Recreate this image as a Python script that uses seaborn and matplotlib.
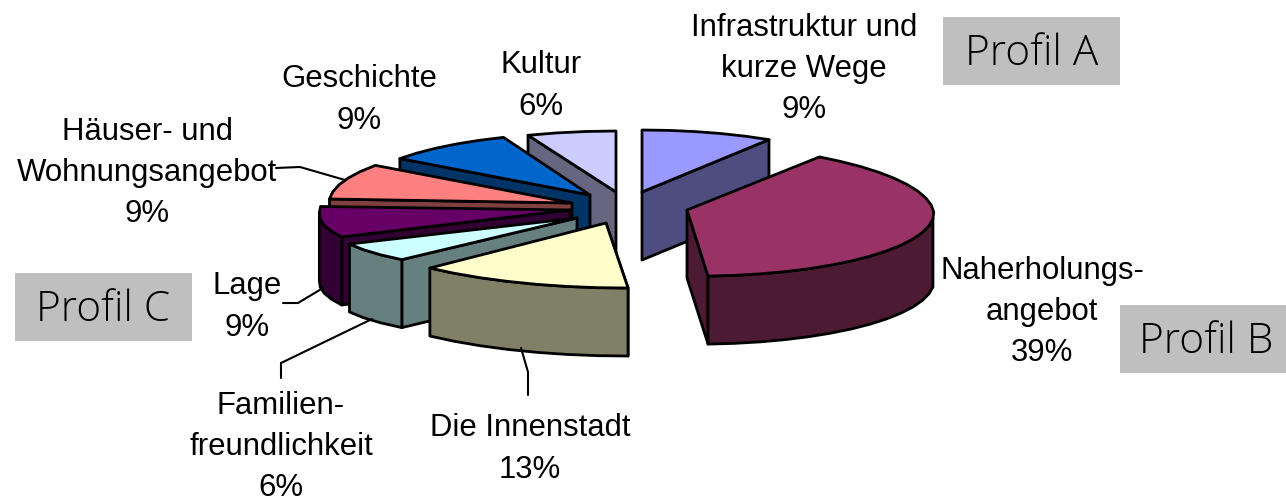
import numpy as np
import matplotlib
matplotlib.use("Agg")
import matplotlib.pyplot as plt
import seaborn as sns

# ---- data (clockwise from 12 o'clock) ----
categories = ["Infrastruktur und\nkurze Wege", "Naherholungs-\nangebot", "Die Innenstadt",
              "Familien-\nfreundlichkeit", "Lage", "Häuser- und\nWohnungsangebot",
              "Geschichte", "Kultur"]
shares = [9, 39, 13, 6, 9, 9, 9, 6]
top_colors = ["#9999FF", "#993366", "#FFFFCC", "#CCFFFF", "#660066", "#FF8080", "#0066CC", "#CCCCFF"]
profiles = ["Profil A", "Profil B", "Profil C"]

# ---- layout of the exploded pseudo-3D pie (style, not data) ----
apex_x = [642, 687, 606, 577, 570, 572, 590, 616]
apex_y = [192, 210, 223, 218, 210, 203, 195, 192]
rad_x = [237, 247, 263, 247, 250, 243, 235, 239]
rad_y = [62, 66, 64.6, 54, 56, 64, 62, 61]
shear = [0, -10, -11, -23, -19, 0, 0, 0]
tilt = [0, 5, 7.4, 0, 0, 0, 0, 0]
depth = 68
draw_order = [7, 6, 5, 4, 3, 2, 0, 1]
label_x = [804, 1042, 530, 281, 247, 147, 359, 541]
label_y = [69, 312, 449, 447, 307, 173, 100, 86]
leaders = {
    5: ([276, 300, 345], [168, 167, 180]),
    4: ([283, 298, 323], [303, 303, 288]),
    3: ([281, 281, 372], [378, 363, 319]),
    2: ([528, 528, 521], [395, 372, 348]),
}
boxes = [(943, 17, 177, 68), (1120, 305, 166, 68), (15, 273, 177, 68)]
box_text_dx = [0, 3, 0]

sns.set_theme(style="white")
plt.rcParams["font.family"] = ["Liberation Sans", "DejaVu Sans"]
palette = sns.color_palette(top_colors)

fig = plt.figure(figsize=(12.86, 5.03), dpi=100)
ax = fig.add_axes([0, 0, 1, 1])
ax.set_xlim(0, 1286)
ax.set_ylim(503, 0)
ax.axis("off")

edges = np.cumsum([0] + shares) / sum(shares) * 2 * np.pi


def rim(i, theta):
    u, v = np.sin(theta), -np.cos(theta)
    return (apex_x[i] + rad_x[i] * u + shear[i] * np.maximum(v, 0),
            apex_y[i] + rad_y[i] * v + tilt[i] * u)


style = dict(edgecolor="black", linewidth=2.0, joinstyle="round")

for i in draw_order:
    a0, a1 = edges[i], edges[i + 1]
    top = palette[i]
    wall = tuple(c * 0.5 for c in top)
    theta = np.linspace(a0, a1, max(3, int((a1 - a0) / np.radians(6)) + 1))
    xs, ys = rim(i, theta)

    # radial side face
    edge_theta = a0 if (a0 + a1) / 2 > np.pi else a1
    ex, ey = rim(i, np.array(edge_theta))
    ax.fill([apex_x[i], ex, ex, apex_x[i]],
            [apex_y[i], ey, ey + depth, apex_y[i] + depth], facecolor=wall, **style)

    # curved outer wall (front half of the rim only)
    mask = -np.cos(theta) >= -0.02
    if mask.sum() >= 2:
        wx, wy = xs[mask], ys[mask]
        ax.fill(np.r_[wx, wx[::-1]], np.r_[wy, wy[::-1] + depth], facecolor=wall, **style)

    # top surface
    ax.fill(np.r_[apex_x[i], xs], np.r_[apex_y[i], ys], facecolor=top, **style)

# leader lines
for lx, ly in leaders.values():
    ax.plot(lx, ly, color="black", lw=1.5, solid_joinstyle="miter")

# labels
for i, name in enumerate(categories):
    ax.text(label_x[i], label_y[i], f"{name}\n{shares[i]}%", ha="center", va="center",
            fontsize=22.4, color="black", linespacing=1.48, family=["Liberation Sans"])

# profile boxes
for (bx, by, bw, bh), name, dx in zip(boxes, profiles, box_text_dx):
    ax.add_patch(plt.Rectangle((bx, by), bw, bh, facecolor="#BFBFBF", edgecolor="none"))
    ax.text(bx + bw / 2 + dx, by + bh / 2 + 2.5, name, ha="center", va="center",
            fontsize=30.5, color="black", family=["Open Sans"], fontweight="light")

fig.savefig("out.png", dpi=100, facecolor="white")
